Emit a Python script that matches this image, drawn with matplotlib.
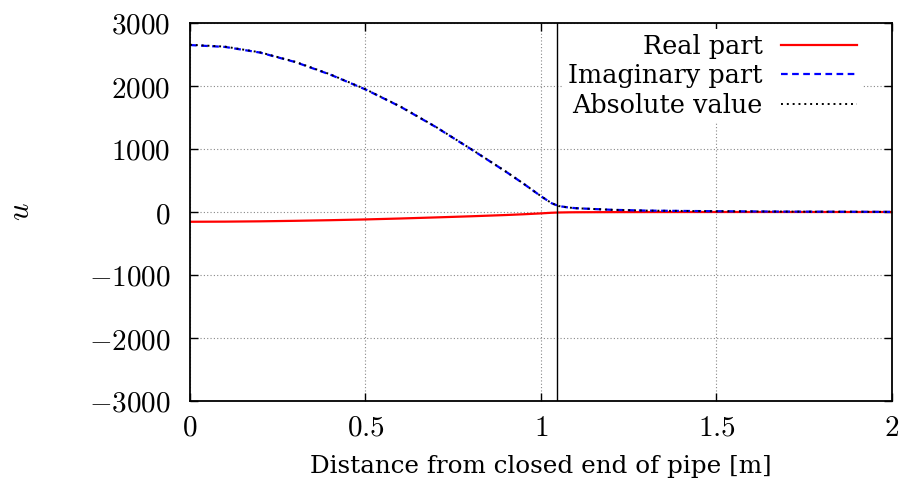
import numpy as np
import matplotlib.pyplot as plt

# values
distance = [0.0, 0.1, 0.2, 0.3, 0.4, 0.5, 0.6, 0.7, 0.8, 0.9, 0.95, 1.0,
            1.03, 1.05, 1.08, 1.1, 1.2, 1.3, 1.5, 1.7, 2.0]
imag_part = [2650, 2620, 2530, 2380, 2180, 1945, 1670, 1350, 1000, 640, 450,
             250, 140, 95, 70, 60, 35, 22, 12, 6, 2]
real_part = [-155, -153, -148, -140, -130, -118, -103, -86, -68, -48, -36,
             -22, -12, -8, -5, -4, -2, -1, 0, 0, 0]
abs_value = [2655, 2625, 2534, 2384, 2184, 1949, 1673, 1353, 1002, 642, 451,
             251, 141, 95, 70, 60, 35, 22, 12, 6, 2]
interface_x = 1.046

x_ticks = [0, 0.5, 1, 1.5, 2]
x_tick_labels = ["$0$", "$0.5$", "$1$", "$1.5$", "$2$"]
y_ticks = [-3000, -2000, -1000, 0, 1000, 2000, 3000]
y_tick_labels = ["$-3000$", "$-2000$", "$-1000$", "$0$", "$1000$", "$2000$", "$3000$"]

plt.rcParams["mathtext.fontset"] = "cm"
plt.rcParams["font.family"] = ["DejaVu Serif"]

fig = plt.figure(figsize=(9.03, 4.93), dpi=100)
ax = fig.add_axes([190 / 903, 1 - 401 / 493, 702 / 903, 378 / 493])

ax.plot(distance, real_part, color="#ff0000", lw=1.6, label="Real part")
ax.plot(distance, imag_part, color="#0000ff", lw=1.6, ls=(0, (3, 2)),
        label="Imaginary part")
ax.plot(distance, abs_value, color="black", lw=1.4, ls=(0, (1, 2)),
        label="Absolute value")
ax.axvline(interface_x, color="black", lw=1.0, zorder=6)

ax.set_xlim(0, 2)
ax.set_ylim(-3000, 3000)
ax.set_xticks(x_ticks)
ax.set_xticklabels(x_tick_labels)
ax.set_yticks(y_ticks)
ax.set_yticklabels(y_tick_labels)
ax.tick_params(direction="in", length=6, width=1.0, top=True, right=True,
               labelsize=21)
ax.tick_params(axis="y", pad=14)
ax.tick_params(axis="x", pad=9)
ax.grid(True, color="#888888", ls=(0, (1, 2)), lw=0.8)
for side in ax.spines.values():
    side.set_linewidth(1.3)

ax.set_xlabel("Distance from closed end of pipe [m]", fontsize=17.7, labelpad=10)
ax.set_ylabel("$u$", fontsize=22, labelpad=38, rotation=90)

legend = ax.legend(loc="upper right", fontsize=18.4, frameon=True,
                   framealpha=1.0, edgecolor="none", fancybox=False,
                   markerfirst=False, handlelength=3.0, labelspacing=0.17,
                   borderpad=0.2, handletextpad=0.7,
                   bbox_to_anchor=(0.976, 1.018))
for text in legend.get_texts():
    text.set_ha("right")
legend.get_frame().set_linewidth(0)

fig.savefig("out.png", dpi=100)
